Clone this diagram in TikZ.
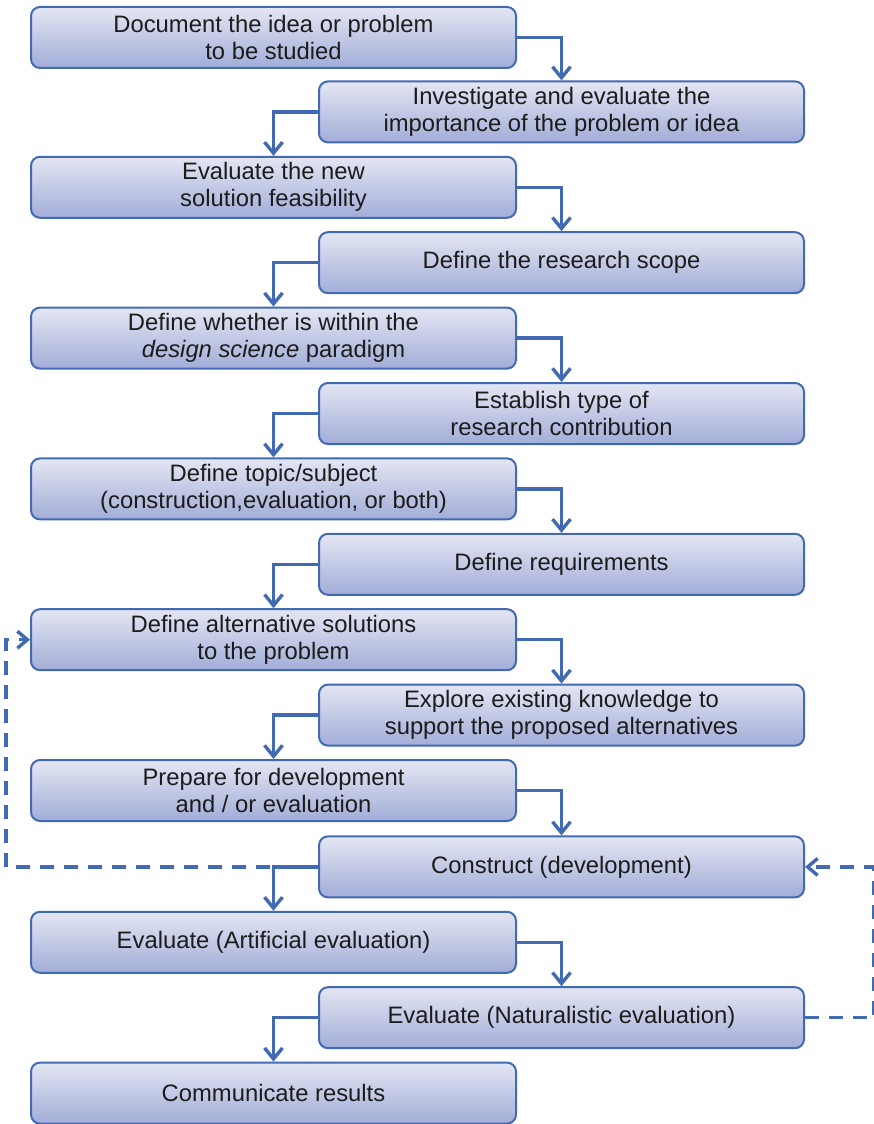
\documentclass[tikz,border=0pt]{standalone}
\usepackage{fontspec}
\setmainfont{Liberation Sans}
\usetikzlibrary{arrows.meta}
\definecolor{edgeblue}{RGB}{66,106,178}
\definecolor{boxtop}{RGB}{228,230,243}
\definecolor{boxbot}{RGB}{162,173,216}
\definecolor{txt}{RGB}{28,28,28}
\tikzset{
  stepbox/.style={draw=edgeblue, line width=2pt, rounded corners=9pt,
    top color=boxtop, bottom color=boxbot, minimum width=485pt,
    minimum height=61pt, anchor=north west, align=center, inner sep=0pt,
    text=txt, font=\fontsize{23.8pt}{27pt}\selectfont},
  conn/.style={draw=edgeblue, line width=3.4pt,
    -{Straight Barb[length=11pt,width=18pt,line width=3.4pt]}},
  dconn/.style={draw=edgeblue, line width=3.4pt, dash pattern=on 14pt off 10pt,
    -{Straight Barb[length=10pt,width=17pt,line width=3.4pt]}}
}
\begin{document}
\begin{tikzpicture}[x=1pt,y=-1pt]
\useasboundingbox (0,0) rectangle (874,1124);
% left column at x=30, right column at x=318; rows every 75.4 units
\node[stepbox] (b1)  at (30,6)      {Document the idea or problem\\to be studied};
\node[stepbox] (b2)  at (318,80.4)  {Investigate and evaluate the\\importance of the problem or idea};
\node[stepbox] (b3)  at (30,155.8)  {Evaluate the new\\solution feasibility};
\node[stepbox] (b4)  at (318,231.2) {Define the research scope};
\node[stepbox] (b5)  at (30,306.6)  {Define whether is within the\\\textit{design science} paradigm};
\node[stepbox] (b6)  at (318,382.0) {Establish type of\\research contribution};
\node[stepbox] (b7)  at (30,457.4)  {Define topic/subject\\(construction,evaluation, or both)};
\node[stepbox] (b8)  at (318,532.8) {Define requirements};
\node[stepbox] (b9)  at (30,608.2)  {Define alternative solutions\\to the problem};
\node[stepbox] (b10) at (318,683.6) {Explore existing knowledge to\\support the proposed alternatives};
\node[stepbox] (b11) at (30,759.0)  {Prepare for development\\and / or evaluation};
\node[stepbox] (b12) at (318,835.4) {Construct (development)};
\node[stepbox] (b13) at (30,910.8)  {Evaluate (Artificial evaluation)};
\node[stepbox] (b14) at (318,986.2) {Evaluate (Naturalistic evaluation)};
\node[stepbox] (b15) at (30,1061.6) {Communicate results};

% feedback loops
\draw[dconn] (b12.west) -- ++(-312,0) |- (b9.west);
\draw[dconn] (b14.east) -- ++(69,0) |- (b12.east);

% main sequence
\draw[conn] (b1.east)  -| (b2.north);
\draw[conn] (b2.west)  -| (b3.north);
\draw[conn] (b3.east)  -| (b4.north);
\draw[conn] (b4.west)  -| (b5.north);
\draw[conn] (b5.east)  -| (b6.north);
\draw[conn] (b6.west)  -| (b7.north);
\draw[conn] (b7.east)  -| (b8.north);
\draw[conn] (b8.west)  -| (b9.north);
\draw[conn] (b9.east)  -| (b10.north);
\draw[conn] (b10.west) -| (b11.north);
\draw[conn] (b11.east) -| (b12.north);
\draw[conn] (b12.west) -| (b13.north);
\draw[conn] (b13.east) -| (b14.north);
\draw[conn] (b14.west) -| (b15.north);
\end{tikzpicture}
\end{document}
